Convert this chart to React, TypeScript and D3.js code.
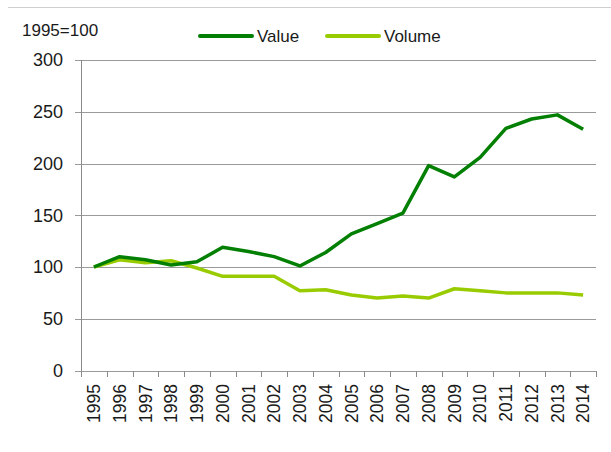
import React from 'react';
import * as d3 from 'd3';

const years = [
  '1995', '1996', '1997', '1998', '1999', '2000', '2001', '2002', '2003', '2004',
  '2005', '2006', '2007', '2008', '2009', '2010', '2011', '2012', '2013', '2014',
];
const valueSeries = [100, 110, 107, 102, 105, 119, 115, 110, 101, 114, 132, 142, 152, 198, 187, 206, 234, 243, 247, 233];
const volumeSeries = [100, 107, 104, 106, 99, 91, 91, 91, 77, 78, 73, 70, 72, 70, 79, 77, 75, 75, 75, 73];
const yTicks = [0, 50, 100, 150, 200, 250, 300];

const series = [
  { name: 'Value', values: valueSeries, color: '#038003' },
  { name: 'Volume', values: volumeSeries, color: '#99cc00' },
];

const width = 611;
const height = 452;
const plot = { left: 81, right: 596, top: 60, bottom: 370.5 };
const font = '"Liberation Sans", Arial, sans-serif';

const App: React.FC = () => {
  const x = d3.scaleBand<string>().domain(years).range([plot.left, plot.right]).padding(0);
  const y = d3.scaleLinear().domain([0, 300]).range([plot.bottom, plot.top]);
  const cx = (i: number) => (x(years[i]) ?? 0) + x.bandwidth() / 2;

  const line = d3
    .line<number>()
    .x((_, i) => cx(i))
    .y((d) => y(d));

  const boundaries = years.map((yr) => x(yr) ?? 0).concat([plot.right]);

  return (
    <svg
      width={width}
      height={height}
      style={{ position: 'absolute', left: 0, top: 0, background: '#fff' }}
      fontFamily={font}
    >
      <line x1={8} x2={width} y1={7.5} y2={7.5} stroke="#cfcfcf" strokeWidth={1} />

      {/* gridlines */}
      {yTicks.map((t) => (
        <line
          key={'g' + t}
          x1={plot.left - 6}
          x2={plot.right}
          y1={Math.round(y(t)) + 0.5}
          y2={Math.round(y(t)) + 0.5}
          stroke="#9a9a9a"
          strokeWidth={1}
        />
      ))}
      {yTicks.map((t) => (
        <text key={'yl' + t} x={63} y={y(t)} dy="0.35em" textAnchor="end" fontSize={18} fill="#1a1a1a">
          {t}
        </text>
      ))}

      {/* y axis */}
      <line x1={plot.left + 0.5} x2={plot.left + 0.5} y1={plot.top} y2={plot.bottom + 6} stroke="#8a8a8a" />

      {/* x ticks */}
      {boundaries.map((b, i) => (
        <line
          key={'xt' + i}
          x1={Math.round(b) + 0.5}
          x2={Math.round(b) + 0.5}
          y1={Math.round(plot.bottom)}
          y2={Math.round(plot.bottom) + 6}
          stroke="#8a8a8a"
        />
      ))}
      {years.map((yr, i) => (
        <text
          key={'xl' + yr}
          transform={`translate(${cx(i)},384) rotate(-90)`}
          dy="0.35em"
          textAnchor="end"
          fontSize={17.5}
          fill="#1a1a1a"
        >
          {yr}
        </text>
      ))}

      {/* lines */}
      {series
        .slice()
        .reverse()
        .map((s) => (
          <path
            key={s.name}
            d={line(s.values) ?? ''}
            fill="none"
            stroke={s.color}
            strokeWidth={3.5}
            strokeLinejoin="round"
          />
        ))}

      {/* unit label */}
      <text x={22} y={30} dy="0.35em" fontSize={17} fill="#1a1a1a">
        1995=100
      </text>

      {/* legend */}
      {series.map((s, i) => {
        const lx = i === 0 ? 200 : 327;
        return (
          <g key={'lg' + s.name} transform={`translate(${lx},36)`}>
            <line x1={0} x2={52} y1={0} y2={0} stroke={s.color} strokeWidth={4} strokeLinecap="round" />
            <text x={57} y={0} dy="0.35em" fontSize={17} fill="#1a1a1a">
              {s.name}
            </text>
          </g>
        );
      })}
    </svg>
  );
};

export default App;
